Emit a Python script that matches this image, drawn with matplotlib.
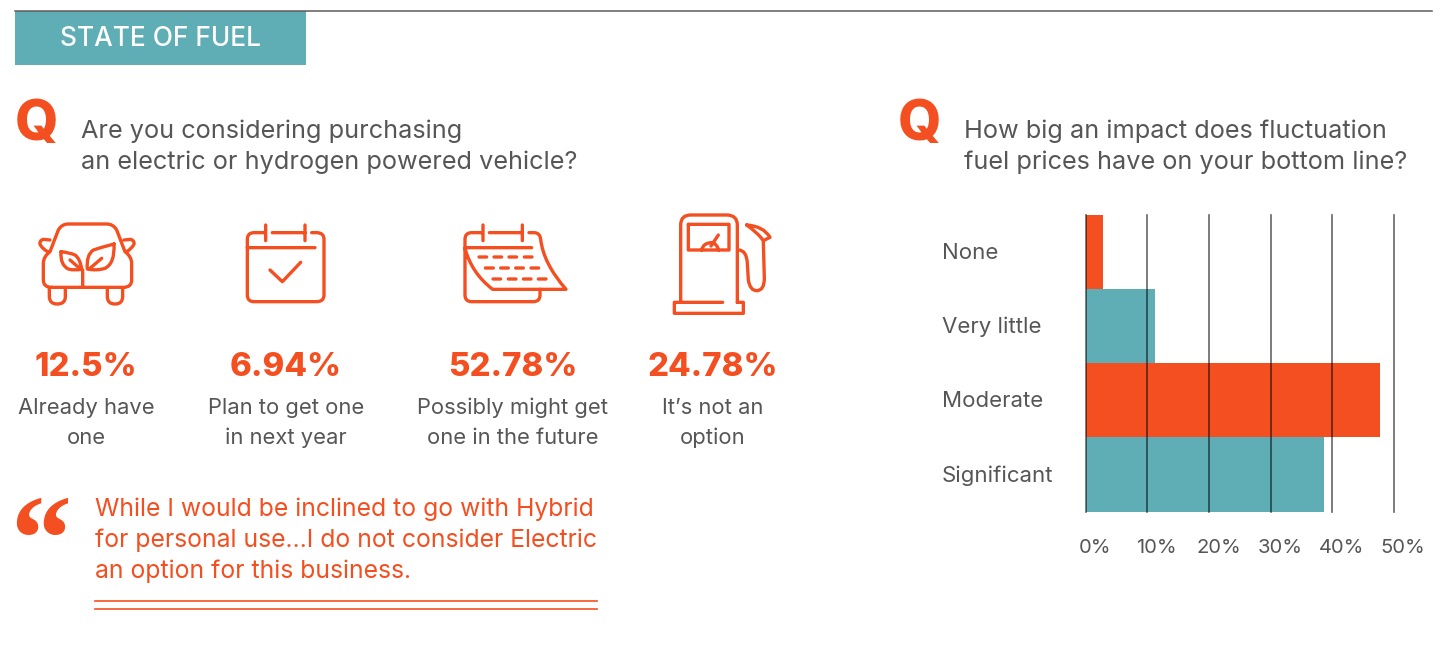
import matplotlib.pyplot as plt
from matplotlib.patches import PathPatch, Rectangle
from matplotlib.path import Path
from matplotlib.transforms import ScaledTranslation

W, H, DPI = 1450, 656, 100
ORANGE = "#F44F20"
TEAL = "#5FADB5"
GREY = "#565656"

impact_labels = ["None", "Very little", "Moderate", "Significant"]
impact_values = [2.8, 11.25, 47.8, 38.75]
impact_colors = [ORANGE, TEAL, ORANGE, TEAL]
impact_ticks = [0, 10, 20, 30, 40, 50]

purchase_values = ["12.5%", "6.94%", "52.78%", "24.78%"]
purchase_captions = ["Already have\none", "Plan to get one\nin next year",
                     "Possibly might get\none in the future", "It’s not an\noption"]
purchase_centers = [86, 286, 513, 713]

CAR = """M 155 262 Q 130 262 130 240 L 130 190 Q 130 170 150 155 L 175 90 Q 185 72 205 72 L 320 72
Q 340 72 350 90 L 375 155 Q 395 170 395 190 L 395 240 Q 395 262 370 262 L 155 262
M 150 120 L 130 118 Q 118 122 120 132 Q 125 145 143 155
M 372 120 L 392 118 Q 404 122 402 132 Q 397 145 380 155
M 148 265 L 148 290 Q 148 312 172 312 Q 196 312 196 290 L 196 265
M 322 265 L 322 290 Q 322 312 345 312 Q 368 312 368 290 L 368 265
M 248 262 L 248 210
M 183 155 Q 180 195 205 207 Q 225 213 245 207 Q 240 175 225 165 Q 210 158 183 155
M 342 132 Q 345 190 315 205 Q 290 213 262 207 Q 258 165 280 150 Q 300 143 342 132
M 210 180 L 245 210 M 305 175 L 270 205"""
CALENDAR = """M 795 98 L 762 98 Q 742 98 742 118 L 742 285 Q 742 305 762 305 L 950 305 Q 972 305 972 285
L 972 118 Q 972 98 950 98 L 935 98 M 817 98 L 915 98 M 797 75 L 797 122 M 915 75 L 915 122
M 742 143 L 945 143 M 810 210 L 847 245 L 902 187"""
PEEL = """M 157 98 L 125 98 Q 105 98 105 118 L 105 285 Q 105 305 125 305 L 310 305 Q 330 305 330 285 L 330 268
M 178 98 L 275 98 M 297 98 L 312 98 Q 330 98 332 118 Q 340 190 408 268 L 188 268 Q 125 220 105 145
M 159 75 L 159 122 M 277 75 L 277 122 M 108 143 L 305 143
M 147 171 L 170 171 M 192 171 L 215 171 M 237 171 L 260 171 M 283 171 L 306 171
M 166 204 L 190 204 M 212 204 L 235 204 M 257 204 L 280 204 M 303 204 L 326 204
M 189 237 L 212 237 M 235 237 L 258 237 M 280 237 L 303 237 M 325 237 L 348 237"""
PUMP = """M 752 305 L 752 75 Q 752 45 782 45 L 890 45 Q 922 45 922 75 L 922 307
M 878 307 L 733 307 L 733 340 L 940 340 L 940 307 L 922 307
M 775 73 L 897 73 L 897 150 L 775 150 L 775 73
M 815 150 Q 820 128 845 128 Q 860 130 866 150 M 843 138 L 865 105
M 925 150 Q 950 150 952 190 L 955 240 Q 960 272 980 272 Q 1003 272 1003 235 L 1000 125
M 950 75 Q 1000 78 1020 112 L 1000 122 Q 985 100 950 75"""


def icon_path(spec, x0, y0):
    verts, codes = [], []
    tokens = spec.split()
    i = 0
    while i < len(tokens):
        cmd = tokens[i]
        if cmd == "Q":
            pts = [tokens[i + 1:i + 3], tokens[i + 3:i + 5]]
            new_codes = [Path.CURVE3, Path.CURVE3]
        else:
            pts = [tokens[i + 1:i + 3]]
            new_codes = [Path.MOVETO if cmd == "M" else Path.LINETO]
        verts += [(x0 + float(x) / 3, y0 + float(y) / 3) for x, y in pts]
        codes += new_codes
        i += 1 + 2 * len(pts)
    return Path(verts, codes)


def draw_icon(ax, spec, x0, y0):
    ax.add_patch(PathPatch(icon_path(spec, x0, y0), fc="none", ec=ORANGE, lw=2.4,
                           capstyle="round", joinstyle="round"))


plt.rcParams["font.family"] = ["Inter", "DejaVu Sans"]
fig = plt.figure(figsize=(W / DPI, H / DPI), dpi=DPI)

# whole figure in pixels for the infographic parts
bg = fig.add_axes([0, 0, 1, 1])
bg.set_xlim(0, W)
bg.set_ylim(H, 0)
bg.axis("off")

bg.add_patch(Rectangle((15, 11), 291, 54, fc=TEAL, ec="none"))
bg.plot([15, 1432], [11, 11], color="#5c5c5c", lw=1.1)
bg.text(160.5, 39, "STATE OF FUEL", color="white", fontsize=18.9, fontweight="medium",
        ha="center", va="center")

bg.text(37, 140, "Q", color=ORANGE, fontsize=40, fontweight="heavy", ha="center", va="baseline")
bg.text(920, 140, "Q", color=ORANGE, fontsize=40, fontweight="heavy", ha="center", va="baseline")

bg.text(81, 138, "Are you considering purchasing", color=GREY, fontsize=18.2, va="baseline")
bg.text(81, 169, "an electric or hydrogen powered vehicle?", color=GREY, fontsize=18.2, va="baseline")
bg.text(964, 138, "How big an impact does fluctuation", color=GREY, fontsize=18.2, va="baseline")
bg.text(964, 169, "fuel prices have on your bottom line?", color=GREY, fontsize=18.2, va="baseline")

draw_icon(bg, CAR, 0, 200)
draw_icon(bg, CALENDAR, 0, 200)
draw_icon(bg, PEEL, 430, 200)
draw_icon(bg, PUMP, 430, 200)

for cx, val, cap in zip(purchase_centers, purchase_values, purchase_captions):
    bg.text(cx, 367.5, val, color=ORANGE, fontsize=23.7, fontweight="heavy", ha="center", va="center")
    line1, line2 = cap.split("\n")
    bg.text(cx, 408, line1, color=GREY, fontsize=15.8, ha="center", va="center")
    bg.text(cx, 438, line2, color=GREY, fontsize=15.8, ha="center", va="center")

bg.text(10, 580, "“", color=ORANGE, fontsize=88, fontweight="bold", family="Liberation Serif",
        ha="left", va="baseline")
bg.text(95, 516, "While I would be inclined to go with Hybrid", color=ORANGE, fontsize=17.8, va="baseline")
bg.text(95, 547, "for personal use…I do not consider Electric", color=ORANGE, fontsize=17.8, va="baseline")
bg.text(95, 578, "an option for this business.", color=ORANGE, fontsize=17.8, va="baseline")
bg.plot([95, 597], [600.5, 600.5], color=ORANGE, lw=1.2)
bg.plot([95, 597], [608.5, 608.5], color=ORANGE, lw=1.2)

# bar chart
left, right, top, bottom = 1085.7, 1393.7, 214.7, 511.7
ax = fig.add_axes([left / W, 1 - bottom / H, (right - left) / W, (bottom - top) / H])
ax.patch.set_alpha(0)
ax.barh(range(len(impact_values)), impact_values, height=1.0, color=impact_colors, zorder=2)
ax.set_xlim(0, 50)
ax.set_ylim(3.5, -0.5)
ax.set_xticks(impact_ticks)
ax.set_xticklabels([f"{t}%" for t in impact_ticks])
ax.set_yticks(range(len(impact_labels)))
ax.set_yticklabels(impact_labels, ha="left")
ax.tick_params(axis="x", length=0, pad=19.5, labelsize=14.5, labelcolor=GREY)
ax.tick_params(axis="y", length=0, pad=(left - 942) * 72 / DPI, labelsize=16, labelcolor=GREY)
ax.grid(axis="x", color="black", alpha=0.6, lw=1.2, zorder=3)
ax.set_axisbelow(False)
for spine in ax.spines.values():
    spine.set_visible(False)
shift = ScaledTranslation(9.5 / DPI, 0, fig.dpi_scale_trans)
for lab in ax.get_xticklabels():
    lab.set_transform(lab.get_transform() + shift)
raise_labels = ScaledTranslation(0, 1 / DPI, fig.dpi_scale_trans)
for lab in ax.get_yticklabels():
    lab.set_transform(lab.get_transform() + raise_labels)
for line in ax.get_xgridlines():
    line.set_clip_on(False)

fig.savefig("out.png", dpi=DPI)
